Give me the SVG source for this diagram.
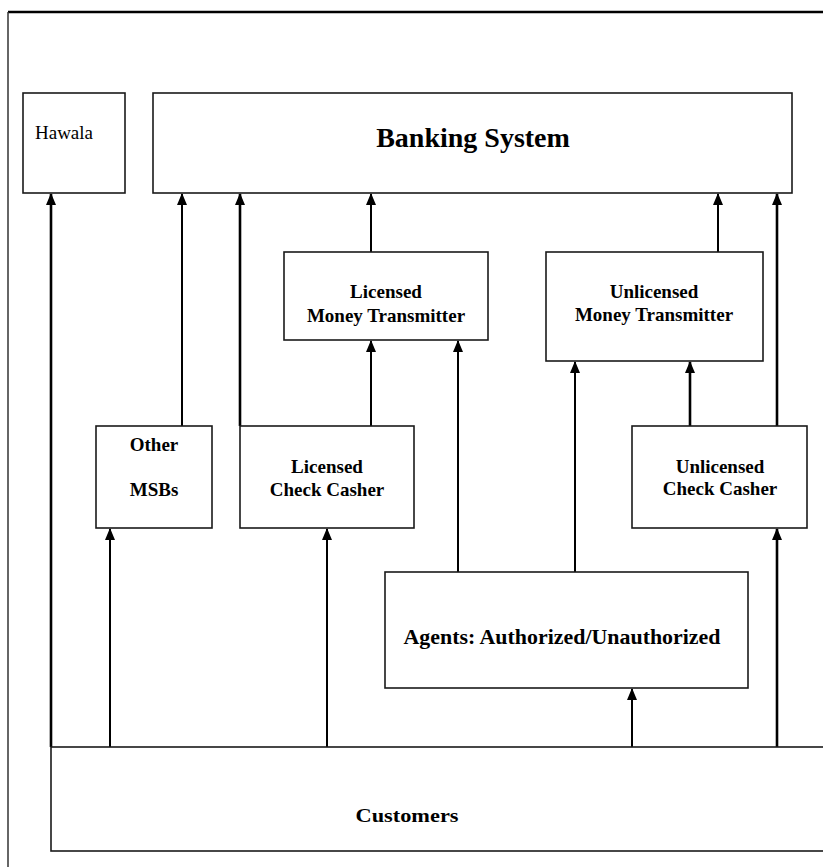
<svg xmlns="http://www.w3.org/2000/svg" width="823" height="867" viewBox="0 0 823 867">
<defs>
<style>
.box{fill:#fff;stroke:#1a1a1a;stroke-width:1.6}
.t{font-family:"Liberation Serif","Times New Roman",serif;font-weight:bold;font-size:19px;fill:#000;text-anchor:middle}
.big{font-size:28px}
.mid{font-size:21px}
.c{fill:none;stroke:#000;stroke-width:2}
.ct{fill:none;stroke:#000;stroke-width:2.6}
</style>
<marker id="ah" markerUnits="userSpaceOnUse" markerWidth="12" markerHeight="10" refX="11" refY="5" orient="auto" viewBox="0 0 12 10">
<path d="M0,0 L12,5 L0,10 Z" fill="#000"/>
</marker>
</defs>
<rect width="823" height="867" fill="#fff"/>
<g id="frame">
<line x1="8" y1="12" x2="823" y2="12" stroke="#000" stroke-width="2.6"/>
<line x1="8" y1="12" x2="8" y2="867" stroke="#333" stroke-width="1.5"/>
</g>
<g id="connectors">
<line class="ct" x1="51" y1="747" x2="51" y2="194" marker-end="url(#ah)"/>
<line class="c" x1="110" y1="747" x2="110" y2="529" marker-end="url(#ah)"/>
<line class="c" x1="327" y1="747" x2="327" y2="529" marker-end="url(#ah)"/>
<line class="c" x1="632" y1="747" x2="632" y2="689" marker-end="url(#ah)"/>
<line class="ct" x1="777" y1="747" x2="777" y2="529" marker-end="url(#ah)"/>
<line class="c" x1="182" y1="426" x2="182" y2="194" marker-end="url(#ah)"/>
<line class="ct" x1="240" y1="426" x2="240" y2="194" marker-end="url(#ah)"/>
<line class="c" x1="371" y1="426" x2="371" y2="341" marker-end="url(#ah)"/>
<line class="c" x1="371" y1="252" x2="371" y2="194" marker-end="url(#ah)"/>
<line class="c" x1="458" y1="572" x2="458" y2="341" marker-end="url(#ah)"/>
<line class="c" x1="575" y1="572" x2="575" y2="362" marker-end="url(#ah)"/>
<line class="ct" x1="690" y1="426" x2="690" y2="362" marker-end="url(#ah)"/>
<line class="c" x1="718" y1="252" x2="718" y2="194" marker-end="url(#ah)"/>
<line class="ct" x1="777" y1="426" x2="777" y2="194" marker-end="url(#ah)"/>
</g>
<g id="hawala">
<rect class="box" x="23" y="93" width="102" height="100"/>
<text x="35" y="139" font-family="Liberation Serif, Times New Roman, serif" font-size="18" textLength="58" lengthAdjust="spacingAndGlyphs">Hawala</text>
</g>
<g id="banking">
<rect class="box" x="153" y="93" width="639" height="100"/>
<text class="t big" x="473" y="147">Banking System</text>
</g>
<g id="licensed-mt">
<rect class="box" x="284" y="252" width="204" height="88"/>
<text class="t" x="386" y="298">Licensed</text>
<text class="t" x="386" y="322">Money Transmitter</text>
</g>
<g id="unlicensed-mt">
<rect class="box" x="546" y="252" width="217" height="109"/>
<text class="t" x="654" y="298">Unlicensed</text>
<text class="t" x="654" y="321">Money Transmitter</text>
</g>
<g id="other-msbs">
<rect class="box" x="96" y="426" width="116" height="102"/>
<text class="t" x="154" y="451">Other</text>
<text class="t" x="154" y="496">MSBs</text>
</g>
<g id="licensed-cc">
<rect class="box" x="240" y="426" width="174" height="102"/>
<text class="t" x="327" y="473">Licensed</text>
<text class="t" x="327" y="496">Check Casher</text>
</g>
<g id="unlicensed-cc">
<rect class="box" x="632" y="426" width="175" height="102"/>
<text class="t" x="720" y="473">Unlicensed</text>
<text class="t" x="720" y="495">Check Casher</text>
</g>
<g id="agents">
<rect class="box" x="385" y="572" width="363" height="116"/>
<text class="t mid" x="562" y="644" textLength="317" lengthAdjust="spacingAndGlyphs">Agents: Authorized/Unauthorized</text>
</g>
<g id="customers">
<rect class="box" x="51" y="747" width="780" height="104"/>
<text class="t" x="407" y="822" textLength="103" lengthAdjust="spacingAndGlyphs">Customers</text>
</g>
</svg>
